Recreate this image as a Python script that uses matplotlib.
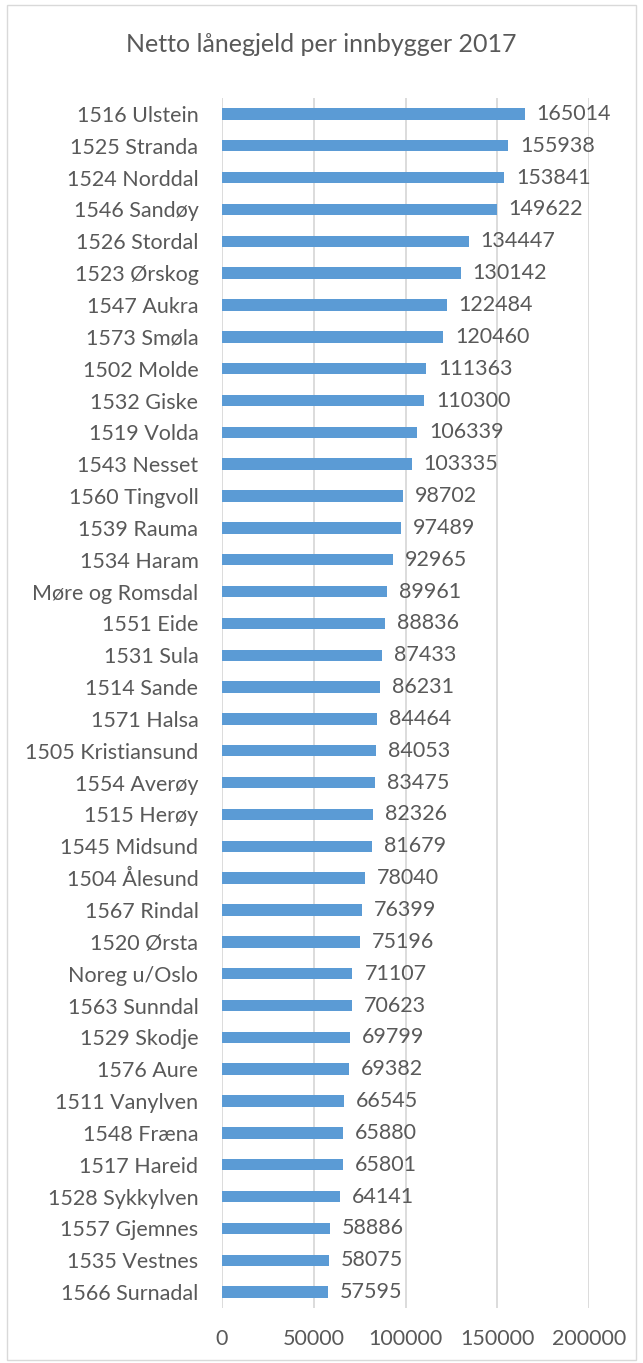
import matplotlib
matplotlib.use("Agg")
import matplotlib.pyplot as plt
from matplotlib.patches import Rectangle

categories = ["1516 Ulstein", "1525 Stranda", "1524 Norddal", "1546 Sandøy", "1526 Stordal",
              "1523 Ørskog", "1547 Aukra", "1573 Smøla", "1502 Molde", "1532 Giske",
              "1519 Volda", "1543 Nesset", "1560 Tingvoll", "1539 Rauma", "1534 Haram",
              "Møre og Romsdal", "1551 Eide", "1531 Sula", "1514 Sande", "1571 Halsa",
              "1505 Kristiansund", "1554 Averøy", "1515 Herøy", "1545 Midsund", "1504 Ålesund",
              "1567 Rindal", "1520 Ørsta", "Noreg u/Oslo", "1563 Sunndal", "1529 Skodje",
              "1576 Aure", "1511 Vanylven", "1548 Fræna", "1517 Hareid", "1528 Sykkylven",
              "1557 Gjemnes", "1535 Vestnes", "1566 Surnadal"]
values = [165014, 155938, 153841, 149622, 134447, 130142, 122484, 120460, 111363, 110300,
          106339, 103335, 98702, 97489, 92965, 89961, 88836, 87433, 86231, 84464,
          84053, 83475, 82326, 81679, 78040, 76399, 75196, 71107, 70623, 69799,
          69382, 66545, 65880, 65801, 64141, 58886, 58075, 57595]
xticks = [0, 50000, 100000, 150000, 200000]
title = "Netto lånegjeld per innbygger 2017"

plt.rcParams['font.family'] = ['Lato', 'DejaVu Sans']
txt = '#595959'
fs = 15.5

fig = plt.figure(figsize=(6.43, 13.63), dpi=100)
fig.patches.append(Rectangle((7/643, 3/1363), 629/643, 1355/1363, transform=fig.transFigure,
                             fill=False, edgecolor='#D9D9D9', linewidth=1))
ax = fig.add_axes([222/643, 1 - 1308/1363, (589-222)/643, (1308-98)/1363])

y = list(range(len(categories)))
ax.barh(y, values, height=0.36, color='#5B9BD5', zorder=3)
ax.set_ylim(len(categories) - 0.5, -0.5)
ax.set_xlim(0, 200000)
ax.set_xticks(xticks)
ax.set_xticklabels([str(t) for t in xticks], fontsize=fs, color=txt)
ax.set_yticks(y)
ax.set_yticklabels(categories, fontsize=fs, color=txt)
ax.tick_params(length=0)
ax.tick_params(axis='y', pad=17)
ax.tick_params(axis='x', pad=15)
ax.grid(axis='x', color='#D9D9D9', linewidth=1.3, zorder=0)
for s in ax.spines.values():
    s.set_visible(False)
for yi, v in zip(y, values):
    ax.text(v + 6500, yi, str(v), va='center', ha='left', fontsize=fs, color=txt)
fig.text(0.5, 1 - 45/1363, title, ha='center', va='center', fontsize=18, color=txt)
fig.savefig("out.png", dpi=100)
